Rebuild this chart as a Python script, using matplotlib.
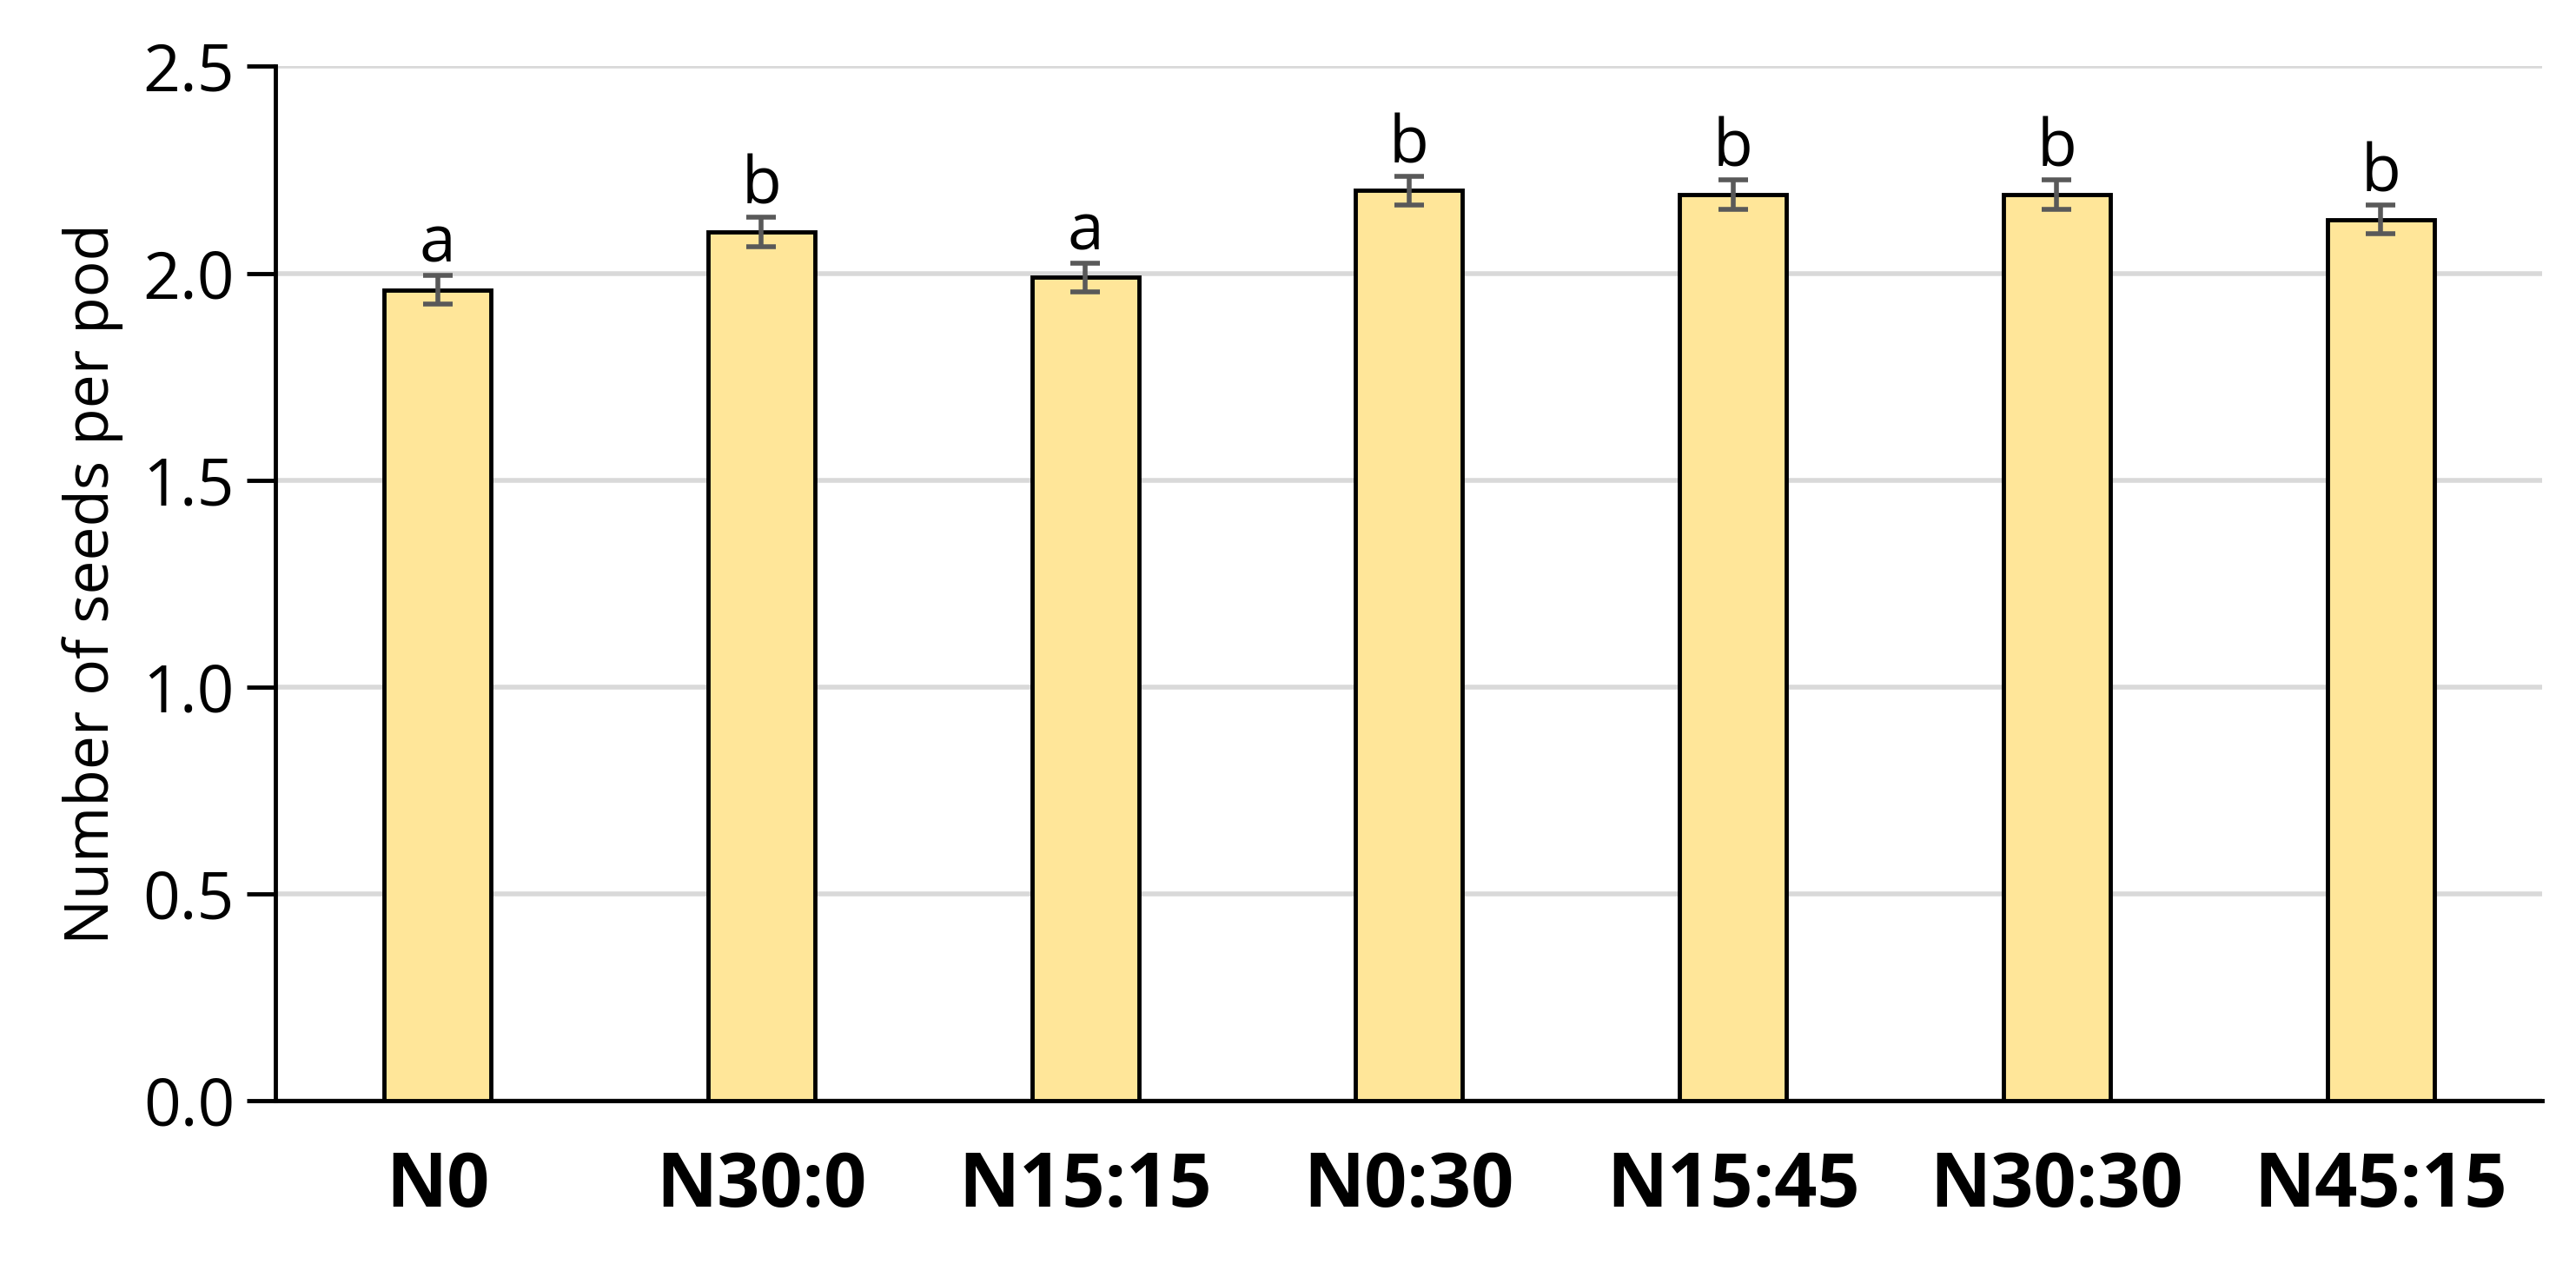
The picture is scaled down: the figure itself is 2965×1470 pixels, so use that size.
import matplotlib.pyplot as plt
import numpy as np

plt.rcParams['font.family'] = ['Open Sans', 'DejaVu Sans']

treatments = ['N0', 'N30:0', 'N15:15', 'N0:30', 'N15:45', 'N30:30', 'N45:15']
seeds = [1.96, 2.10, 1.99, 2.20, 2.19, 2.19, 2.13]
errors = [0.035, 0.035, 0.035, 0.035, 0.035, 0.035, 0.035]
letters = ['a', 'b', 'a', 'b', 'b', 'b', 'b']

fig = plt.figure(figsize=(29.65, 14.7), dpi=100)
ax = fig.add_axes([0.107, 0.138, 0.88, 0.81])

x = np.arange(len(treatments))
ax.bar(x, seeds, width=0.33, color='#FFE699', edgecolor='black', linewidth=3.5, zorder=3)
ax.errorbar(x, seeds, yerr=errors, fmt='none', ecolor='#595959', elinewidth=4,
            capsize=12, capthick=4, zorder=4)
for xi, v, e, l in zip(x, seeds, errors, letters):
    ax.text(xi, v + e - 0.005, l, ha='center', va='bottom', fontsize=54)

ax.set_ylim(0, 2.5)
ax.set_xlim(-0.5, len(treatments) - 0.5)
ax.set_yticks(np.arange(0, 2.51, 0.5))
ax.set_yticklabels(['%.1f' % t for t in np.arange(0, 2.51, 0.5)])
ax.yaxis.grid(True, color='#D9D9D9', linewidth=4, zorder=0)
ax.set_axisbelow(True)
ax.set_xticks(x)
ax.set_xticklabels(treatments, fontsize=62, fontweight='bold')
ax.tick_params(axis='x', length=0, pad=40)
ax.tick_params(axis='y', labelsize=54, length=24, width=3.5, pad=10)
ax.set_ylabel('Number of seeds per pod', fontsize=50, labelpad=16)
for s in ['top', 'right']:
    ax.spines[s].set_visible(False)
for s in ['left', 'bottom']:
    ax.spines[s].set_linewidth(3.5)

fig.savefig('out.png', dpi=100)
